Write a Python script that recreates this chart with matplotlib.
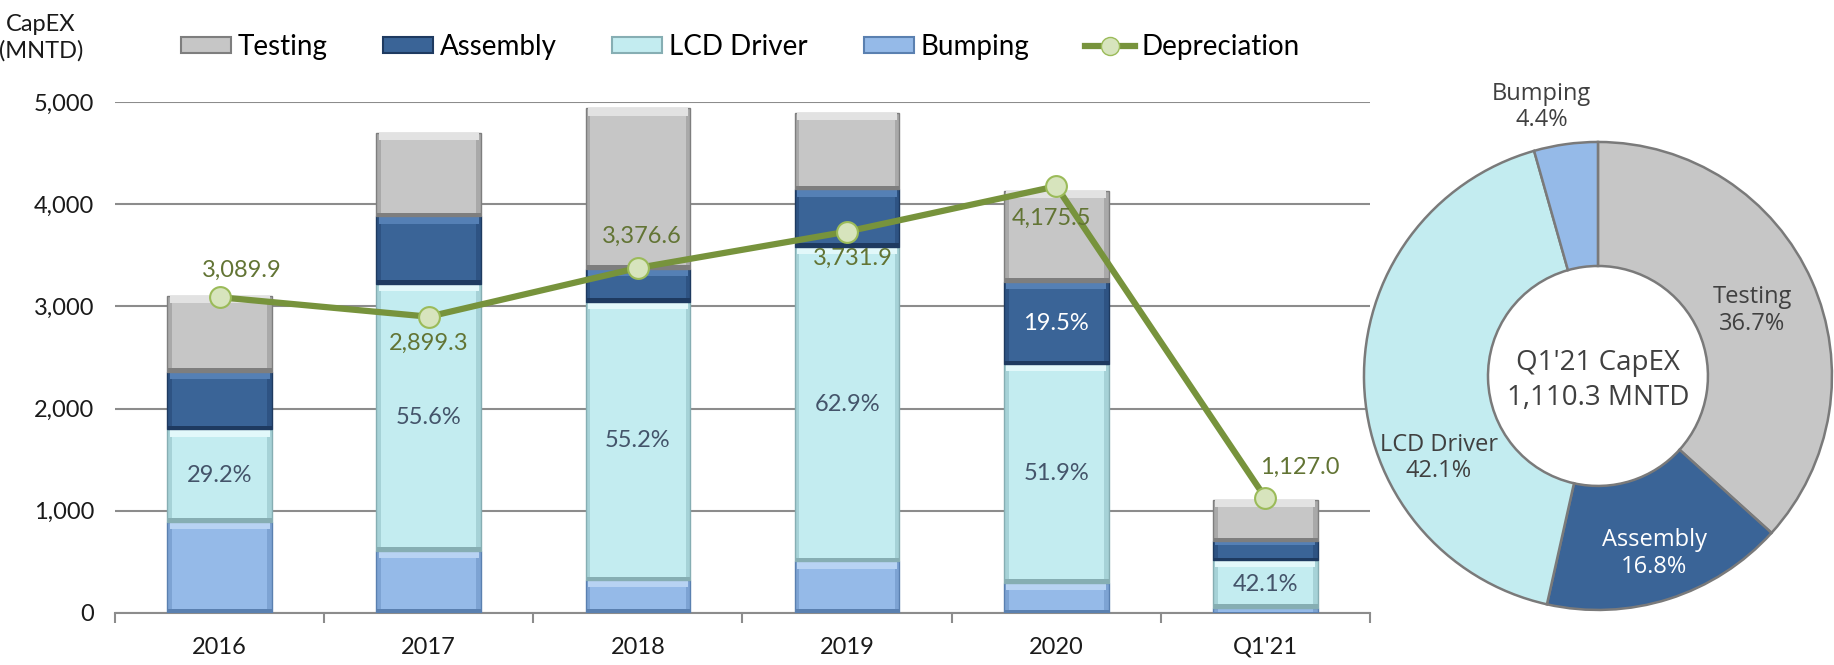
import numpy as np
import matplotlib
matplotlib.use("Agg")
import matplotlib.pyplot as plt
from matplotlib.patches import Patch
from matplotlib.lines import Line2D

plt.rcParams['font.family'] = ['Lato', 'DejaVu Sans']

periods = ['2016', '2017', '2018', '2019', '2020', "Q1'21"]
series = ['Testing', 'Assembly', 'LCD Driver', 'Bumping']

# CapEX per segment (MNTD)
bumping = [890, 610, 320, 505, 293, 48.9]
lcd_driver = [907, 2610, 2727, 3078, 2142, 467.4]
assembly = [563, 660, 320, 562, 805, 186.5]
testing = [745, 814, 1570, 749, 887, 407.5]

depreciation = [3089.9, 2899.3, 3376.6, 3731.9, 4175.5, 1127.0]

lcd_pct = ['29.2%', '55.6%', '55.2%', '62.9%', '51.9%', '42.1%']
assembly_pct = ['', '', '', '', '19.5%', '']

# Q1'21 donut
donut_labels = ['Testing', 'Assembly', 'LCD Driver', 'Bumping']
donut_share = [36.7, 16.8, 42.1, 4.4]
donut_total = "Q1'21 CapEX\n1,110.3 MNTD"

# base / top highlight / side shade / bottom shadow for the bevelled look
colors = {'Testing': '#C6C6C6', 'Assembly': '#3A6497',
          'LCD Driver': '#C3ECF0', 'Bumping': '#95BAE8'}
lights = {'Testing': '#E2E2E2', 'Assembly': '#5580B5',
          'LCD Driver': '#E2F8FA', 'Bumping': '#B8D3F3'}
sides = {'Testing': '#A9A9A9', 'Assembly': '#2E5383',
         'LCD Driver': '#A6D2D7', 'Bumping': '#7DA3D3'}
darks = {'Testing': '#7E7E7E', 'Assembly': '#1E3A60',
         'LCD Driver': '#86AEB3', 'Bumping': '#5A80B0'}
line_col = '#77933C'

fig = plt.figure(figsize=(18.34, 6.65), dpi=100)
ax = fig.add_axes([0.0627, 0.0782, 0.6843, 0.7684])

x = np.arange(len(periods))
bw = 0.5
ix = 0.022
bottom = np.zeros(len(periods))
stack = [('Bumping', bumping), ('LCD Driver', lcd_driver),
         ('Assembly', assembly), ('Testing', testing)]
for name, vals in stack:
    h = np.array(vals, dtype=float)
    iy = np.minimum(70, h * 0.22)
    ax.bar(x, h, bw, bottom=bottom, color=sides[name], edgecolor=darks[name],
           linewidth=1.0, zorder=3)
    ax.bar(x, iy * 0.5, bw, bottom=bottom, color=darks[name],
           linewidth=0, zorder=3)
    ax.bar(x, iy, bw - ix, bottom=bottom + h - iy, color=lights[name],
           linewidth=0, zorder=3)
    ax.bar(x, h - 1.5 * iy, bw - 2 * ix, bottom=bottom + iy * 0.5,
           color=colors[name], linewidth=0, zorder=3)
    bottom = bottom + h

# percent labels inside bars
lcd_mid = np.array(bumping) + np.array(lcd_driver) / 2
asm_mid = np.array(bumping) + np.array(lcd_driver) + np.array(assembly) / 2
for i in range(len(periods)):
    ax.text(x[i], lcd_mid[i], lcd_pct[i], ha='center', va='center',
            fontsize=17, color='#44546A', zorder=5)
    if assembly_pct[i]:
        ax.text(x[i], asm_mid[i], assembly_pct[i], ha='center', va='center',
                fontsize=17, color='white', zorder=5)

ax.plot(x, depreciation, color=line_col, lw=4.5, marker='o', markersize=15,
        markerfacecolor='#D7E4BD', markeredgecolor='#9BBB59',
        markeredgewidth=1.5, zorder=6)
offsets = [(22, 27), (0, -27), (4, 32), (6, -27), (-5, -32), (34, 30)]
for i, v in enumerate(depreciation):
    ax.annotate(f'{v:,.1f}', (x[i], v), xytext=offsets[i],
                textcoords='offset pixels', ha='center', va='center',
                fontsize=17, color='#627434', zorder=7)

ax.set_xlim(-0.5, len(periods) - 0.5)
ax.set_ylim(0, 5000)
ax.set_yticks(range(0, 5001, 1000))
ax.yaxis.set_major_formatter(matplotlib.ticker.FuncFormatter(lambda v, p: f'{v:,.0f}'))
ax.grid(axis='y', color='#8C8C8C', lw=1.5, zorder=0)
ax.set_axisbelow(True)
for s in ['top', 'right', 'left']:
    ax.spines[s].set_visible(False)
ax.spines['bottom'].set_color('#8C8C8C')
ax.spines['bottom'].set_linewidth(1.5)
ax.set_xticks(x)
ax.set_xticklabels(periods)
ax.set_xticks(np.arange(-0.5, len(periods)), minor=True)
ax.tick_params(axis='x', which='major', length=0, pad=17, labelsize=17, colors='#1a1a1a')
ax.tick_params(axis='x', which='minor', length=7, width=1.5, color='#8C8C8C')
ax.tick_params(axis='y', length=0, pad=15, labelsize=17, colors='#1a1a1a')

fig.text(0.0224, 0.943, 'CapEX\n(MNTD)', ha='center', va='center',
         fontsize=17, color='#1a1a1a', linespacing=1.25)

handles = [Patch(facecolor=colors[n], edgecolor=darks[n], linewidth=1.5) for n in series]
handles.append(Line2D([0], [0], color=line_col, lw=4.5, marker='o', markersize=13,
                      markerfacecolor='#D7E4BD', markeredgecolor='#9BBB59'))
fig.legend(handles, series + ['Depreciation'], loc='center left',
           bbox_to_anchor=(0.0985, 0.929), ncol=5, frameon=False, fontsize=20,
           handlelength=1.8, handleheight=0.5, handletextpad=0.25,
           columnspacing=2.0, borderaxespad=0, borderpad=0)

# donut
ax2 = fig.add_axes([0.7182, 0.0124, 0.3062, 0.8445])
ax2.patch.set_visible(False)
wedges, _ = ax2.pie(donut_share, colors=[colors[n] for n in donut_labels],
                    startangle=90, counterclock=False,
                    wedgeprops=dict(width=0.53, edgecolor='#7A7A7A', linewidth=1.8))
ax2.set_xlim(-1.2, 1.2)
ax2.set_ylim(-1.2, 1.2)
ax2.set_aspect('equal')
ax2.axis('off')

label_xy = [(0.66, 0.28), (0.24, -0.76), (-0.68, -0.35), (-0.24, 1.15)]
label_col = ['#404040', 'white', '#404040', '#404040']
for name, share, xy, c in zip(donut_labels, donut_share, label_xy, label_col):
    ax2.text(xy[0], xy[1], f'{name}\n{share:.1f}%', ha='center', va='center',
             fontsize=17, color=c, family='Open Sans', linespacing=1.15)
ax2.text(0, -0.02, donut_total, ha='center', va='center', fontsize=20,
         color='#404040', family='Open Sans', linespacing=1.3)

fig.savefig('out.png', dpi=100)
